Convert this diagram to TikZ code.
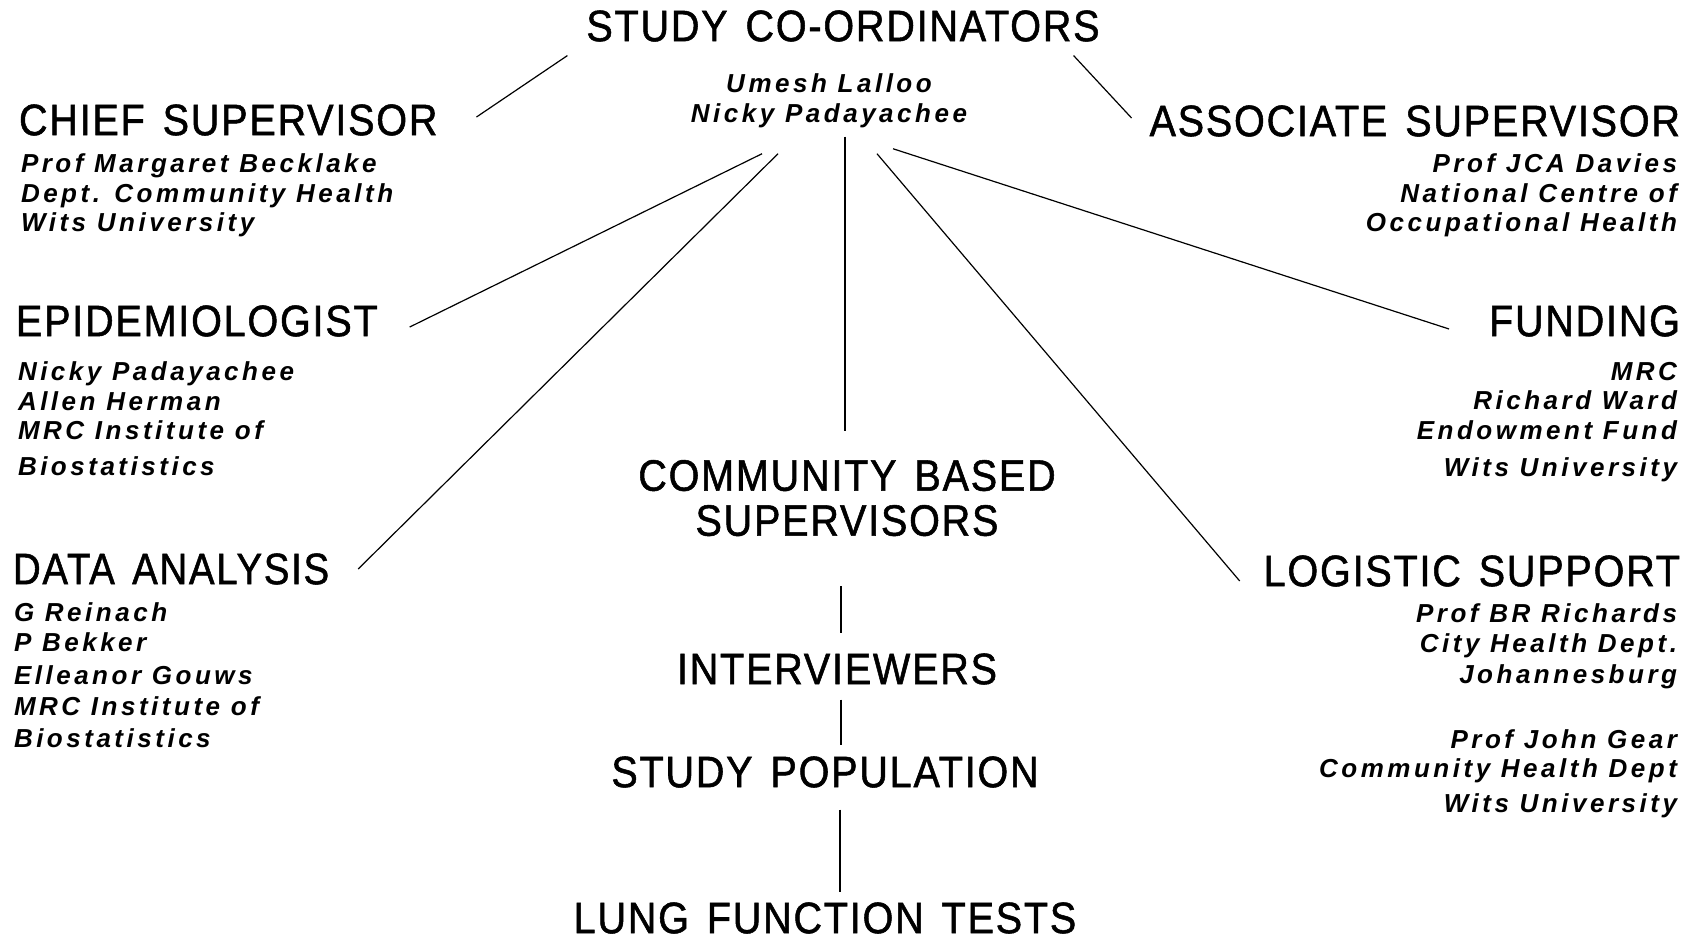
\documentclass[tikz,border=0pt]{standalone}
\usepackage{fontspec}
\setmainfont{Liberation Sans}
\newfontfamily\headfont[FakeStretch=0.9,LetterSpace=4,FakeBold=1.2,WordSpace=1.4]{Liberation Sans}
\newfontfamily\namefont[LetterSpace=13.5]{Liberation Sans}
\usetikzlibrary{positioning}

\begin{document}
\begin{tikzpicture}[x=1pt,y=-1pt]
        \tikzstyle{every node}=[inner sep=0pt,outer sep=0pt]
        \tikzstyle{head}=[font=\headfont\fontsize{44}{45}\selectfont]
        \tikzstyle{staff}=[font=\namefont\bfseries\itshape\fontsize{26}{29.5}\selectfont]
        \tikzstyle{link}=[line width=1.2pt]
        \useasboundingbox (0,0) rectangle (1689,943);
        \node[head] (coord) at (843,26) {STUDY CO-ORDINATORS};
        \node[staff,anchor=north,align=center] (coordnames) at (829,74) {Umesh Lalloo\\Nicky Padayachee};
        \node[head,anchor=west] (chief) at (19,120) {CHIEF SUPERVISOR};
        \node[staff,anchor=north west,align=left] (chiefnames) at (21,154) {Prof Margaret Becklake\\Dept. Community Health\\Wits University};
        \node[head,anchor=east] (assoc) at (1680,121) {ASSOCIATE SUPERVISOR};
        \node[staff,anchor=north east,align=right] (assocnames) at (1677,154) {Prof JCA Davies\\National Centre of\\Occupational Health};
        \node[head,anchor=west] (epi) at (16,321) {EPIDEMIOLOGIST};
        \node[staff,anchor=north west,align=left] (epinames) at (18,362) {Nicky Padayachee\\Allen Herman\\MRC Institute of\\[6pt]Biostatistics};
        \node[head,anchor=east] (funding) at (1680,321) {FUNDING};
        \node[staff,anchor=north east,align=right] (fundnames) at (1677,362) {MRC\\Richard Ward\\Endowment Fund\\[8pt]Wits University};
        \node[head,anchor=west,xscale=0.97] (data) at (13,569) {DATA ANALYSIS};
        \node[staff,anchor=north west,align=left] (datanames) at (14,603) {G Reinach\\P Bekker\\[4pt]Elleanor Gouws\\[1pt]MRC Institute of\\[3pt]Biostatistics};
        \node[head,anchor=east] (logistic) at (1680,571) {LOGISTIC SUPPORT};
        \node[staff,anchor=north east,align=right] (logisticnames) at (1677,604) {Prof BR Richards\\City Health Dept.\\[2pt]Johannesburg\\[35pt]Prof John Gear\\Community Health Dept\\[5pt]Wits University};
        \node[head,anchor=north,align=center] (community) at (847,460) {COMMUNITY BASED\\SUPERVISORS};
        \node[head] (interviewers) at (837,669) {INTERVIEWERS};
        \node[head] (population) at (825,772) {STUDY POPULATION};
        \node[head] (tests) at (825,918) {LUNG FUNCTION TESTS};
        \draw[link] ([xshift=-19pt,yshift=-14pt]coord.south west) -- ([xshift=39pt,yshift=3pt]chief.east);
        \draw[link] ([xshift=-26pt,yshift=-14pt]coord.south east) -- ([xshift=-18pt,yshift=3pt]assoc.west);
        \draw[link] ([xshift=-67pt,yshift=-26pt]coordnames.south) -- ([xshift=32pt,yshift=-6pt]epi.east);
        \draw[link] ([xshift=-51pt,yshift=-26pt]coordnames.south) -- ([xshift=29pt]data.east);
        \draw[link] ([xshift=16pt,yshift=-9pt]coordnames.south) -- ([xshift=-2pt,yshift=29pt]community.north);
        \draw[link] ([xshift=48pt,yshift=-26pt]coordnames.south) -- ([xshift=-24pt,yshift=-10pt]logistic.west);
        \draw[link] ([xshift=64pt,yshift=-21pt]coordnames.south) -- ([xshift=-40pt,yshift=-8pt]funding.west);
        \draw[link] ([xshift=-6pt,yshift=-50pt]community.south) -- ([xshift=4pt,yshift=20pt]interviewers.north);
        \draw[link] ([xshift=4pt,yshift=-15pt]interviewers.south) -- ([xshift=16pt,yshift=11pt]population.north);
        \draw[link] ([xshift=15pt,yshift=-22pt]population.south) -- ([xshift=15pt,yshift=10pt]tests.north);
\end{tikzpicture}
\end{document}
